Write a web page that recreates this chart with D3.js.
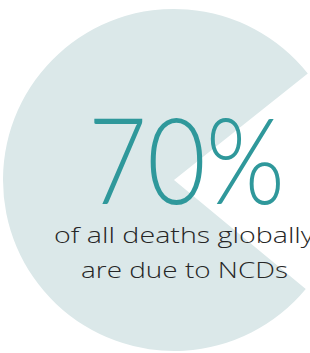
<!DOCTYPE html>
<html lang="en">
<head>
    <meta charset="UTF-8">
    <title>NCD deaths</title>
    <script src="https://d3js.org/d3.v7.min.js"></script>
    <style>
        body {
            margin: 0;
            background: #fff;
        }
        svg {
            display: block;
        }
    </style>
</head>
<body>
    <div id="chart"></div>
    <script>
        // data
        const sliceNames = ['drawn share', 'cut-out wedge'];
        const sliceShares = [78.3, 21.7]; // share of the circle as drawn
        const headlineValue = 70;
        const captionLines = ['of all deaths globally', 'are due to NCDs'];

        const width = 310;
        const height = 353;

        const svg = d3.select('#chart')
            .append('svg')
            .attr('width', width)
            .attr('height', height);

        // pie, gap centred on the right side
        const radius = 171;
        const cx = 174, cy = 180;
        const startDeg = 129.6;

        const pie = d3.pie()
            .sort(null)
            .value(d => d)
            .startAngle(startDeg * Math.PI / 180)
            .endAngle(startDeg * Math.PI / 180 + 2 * Math.PI);

        const arc = d3.arc()
            .innerRadius(0)
            .outerRadius(radius);

        const color = d3.scaleOrdinal()
            .domain(sliceNames)
            .range(['#dbe8e9', 'none']);

        svg.append('g')
            .attr('transform', `translate(${cx},${cy})`)
            .selectAll('path')
            .data(pie(sliceShares))
            .enter()
            .append('path')
            .attr('d', arc)
            .attr('fill', (d, i) => color(sliceNames[i]));

        // big number
        svg.append('text')
            .attr('x', 186.5)
            .attr('y', 204)
            .attr('text-anchor', 'middle')
            .attr('font-family', 'Lato, sans-serif')
            .attr('font-weight', 300)
            .attr('font-size', 121)
            .attr('fill', '#2f989b')
            .attr('textLength', 197)
            .attr('lengthAdjust', 'spacingAndGlyphs')
            .text(`${headlineValue}%`);

        // caption
        const captionX = [184, 184.5];
        const captionY = [243, 278];
        const captionW = [260, 207];

        svg.selectAll('.caption')
            .data(captionLines)
            .enter()
            .append('text')
            .attr('class', 'caption')
            .attr('x', (d, i) => captionX[i])
            .attr('y', (d, i) => captionY[i])
            .attr('text-anchor', 'middle')
            .attr('font-family', '"Open Sans", sans-serif')
            .attr('font-weight', 300)
            .attr('font-size', 22)
            .attr('fill', '#262626')
            .attr('textLength', (d, i) => captionW[i])
            .attr('lengthAdjust', 'spacingAndGlyphs')
            .text(d => d);
    </script>
</body>
</html>
